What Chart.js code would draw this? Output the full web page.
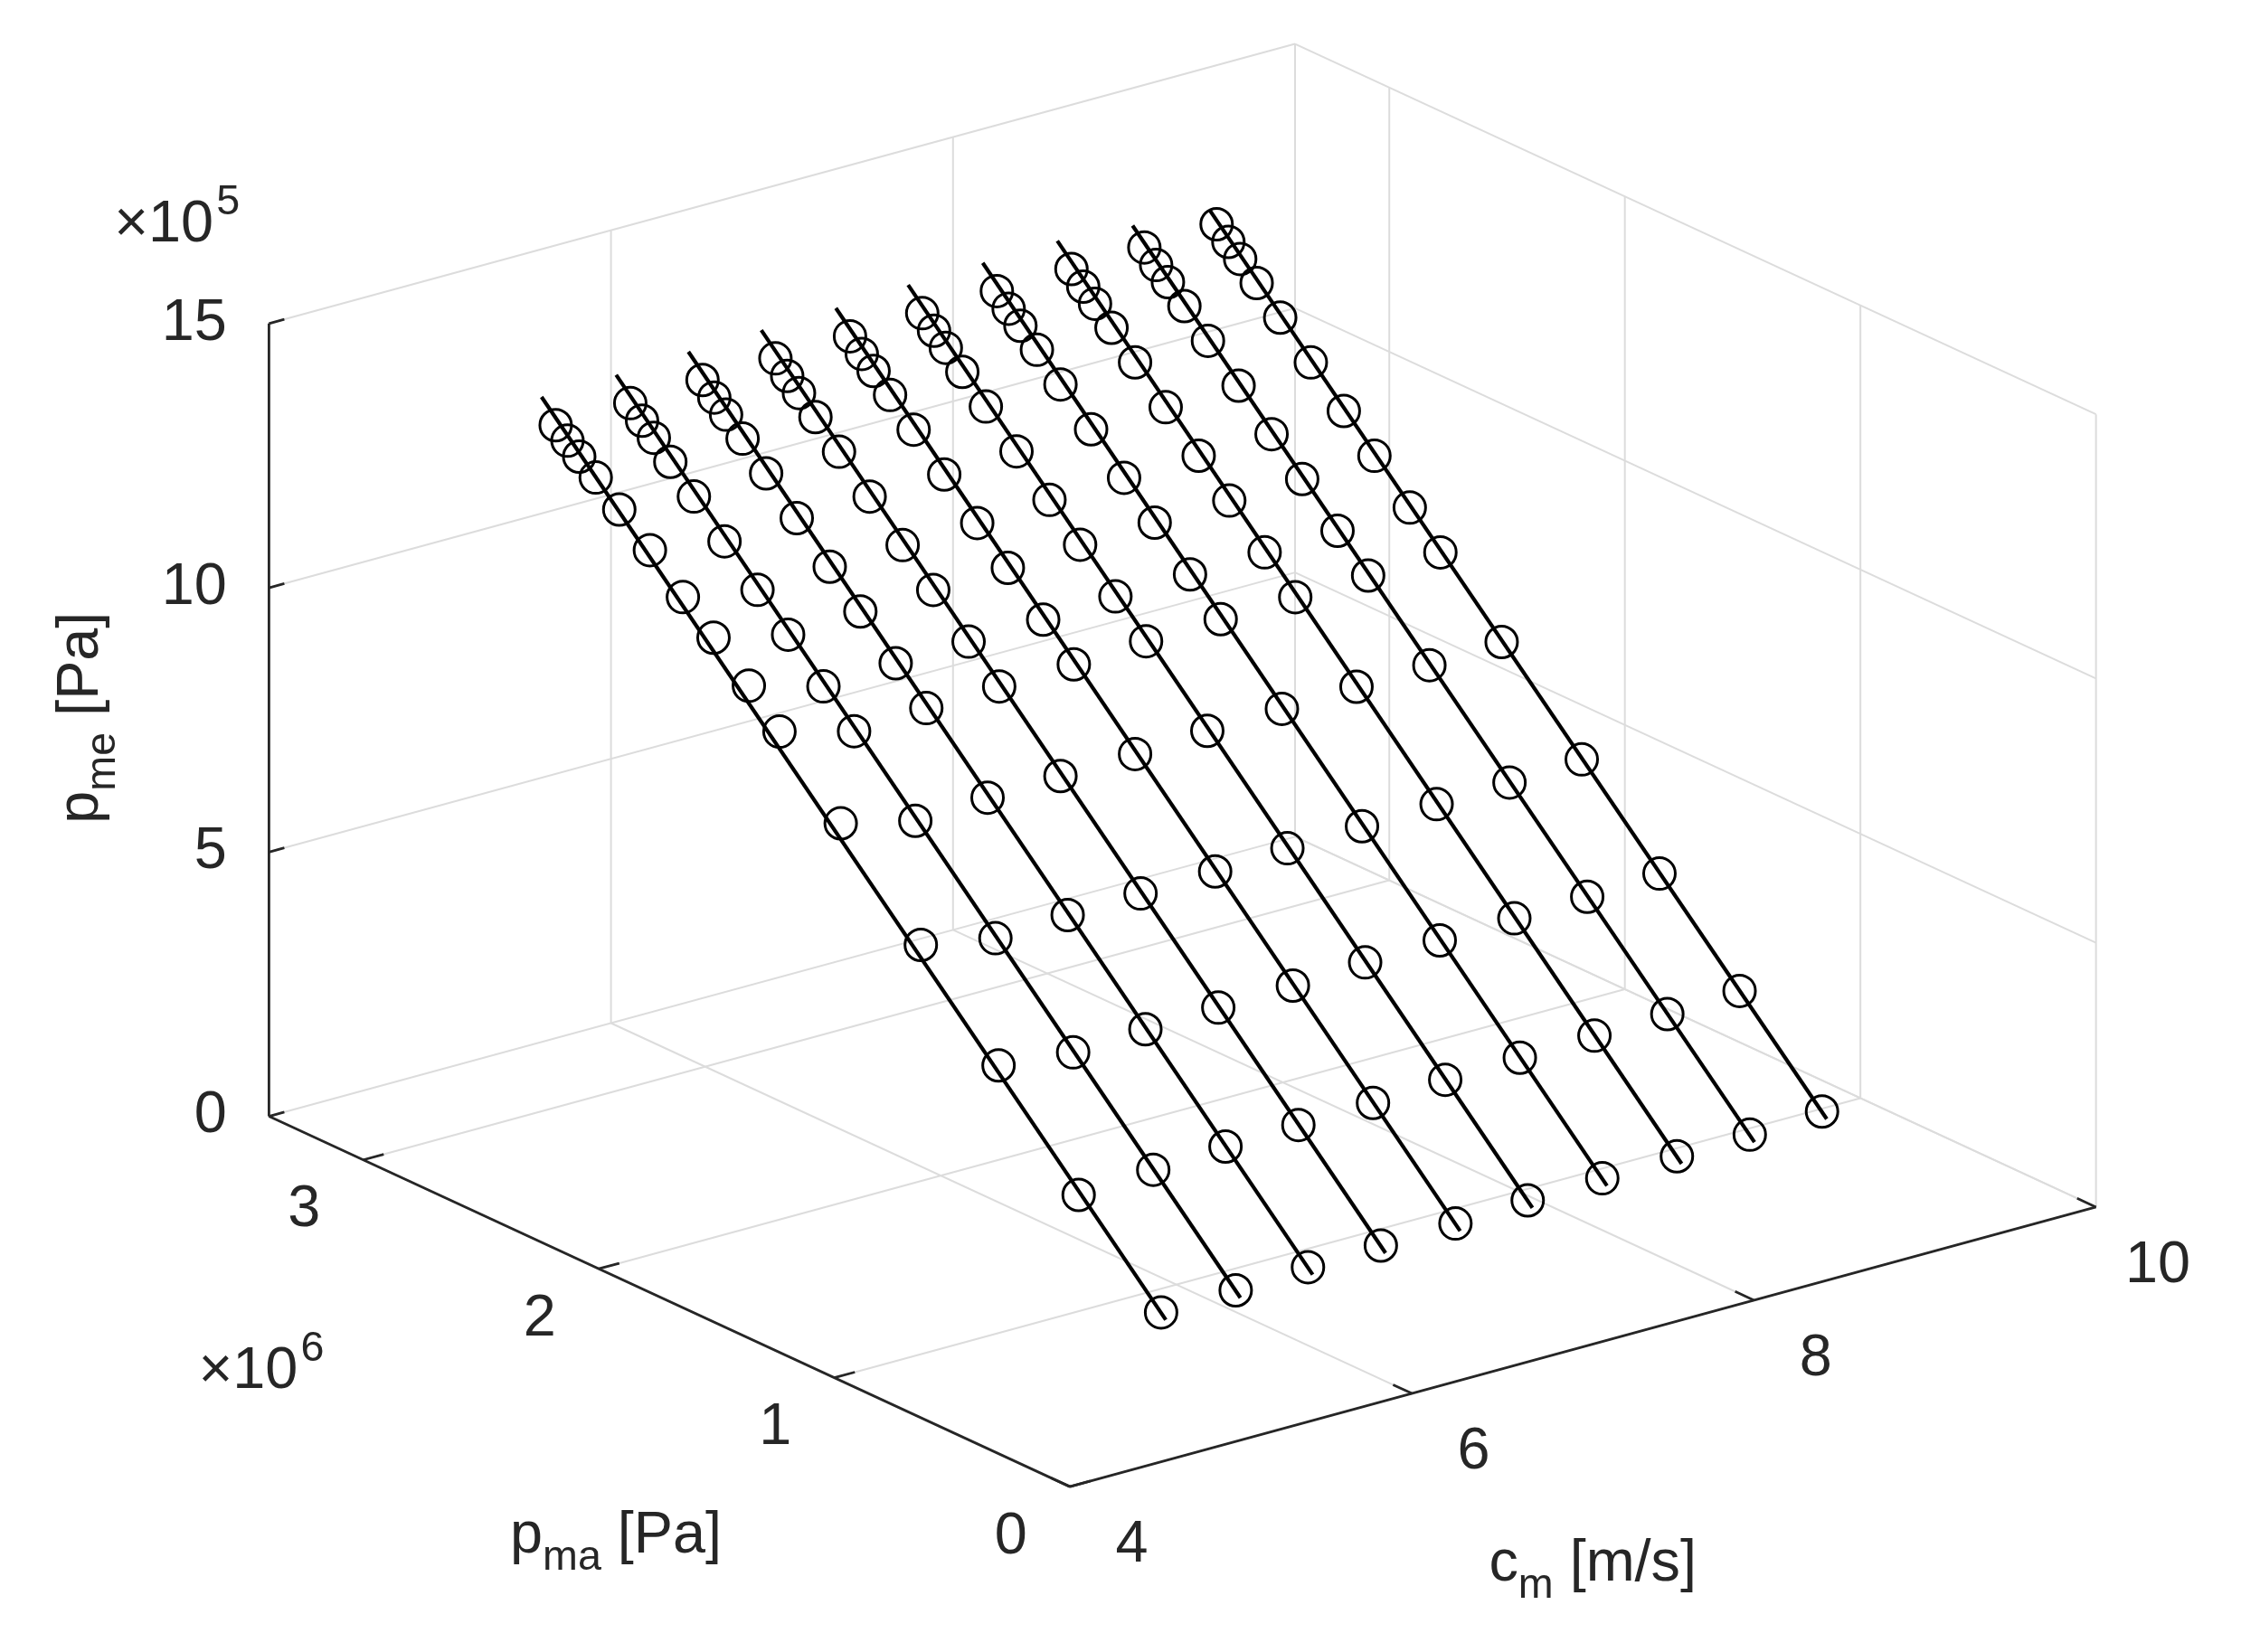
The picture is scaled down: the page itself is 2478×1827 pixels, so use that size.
<!DOCTYPE html>
<html><head><meta charset="utf-8">
<script src="https://cdn.jsdelivr.net/npm/chart.js@4.4.0/dist/chart.umd.min.js"></script>
<style>html,body{margin:0;padding:0;background:#fff}#wrap{width:2478px;height:1827px;position:relative}</style>
</head><body><div id="wrap"><canvas id="c"></canvas></div>
<script>
// ---- data ----
const cmTicks = [4, 6, 8, 10];
const pmaTicks = [0, 1, 2, 3];          // x10^6 Pa
const pmeTicks = [0, 5, 10, 15];        // x10^5 Pa
const cmLines = [5.47, 5.92, 6.37, 6.81, 7.26, 7.71, 8.16, 8.61, 9.05, 9.5];
const pmeMeasured = [0.60, 2.16, 3.68, 5.16, 6.68, 7.84, 8.42, 9.09, 9.67, 10.30, 10.88, 11.33, 11.64, 11.86, 12.09];
const pmeMeasuredFirst = [0.60, 2.10, 3.85, 5.45, 7.05, 8.25, 8.85, 9.45, 9.95, 10.55, 11.05, 11.45, 11.70, 11.90, 12.09];
const pma0 = [0.68,1.03,1.37,1.70,2.04,2.30,2.43,2.58,2.71,2.85,2.98,3.08,3.15,3.20,3.25];
const pma1 = [0.69,1.04,1.38,1.71,2.05,2.31,2.44,2.59,2.72,2.86,2.99,3.09,3.16,3.21,3.26];
const pma2 = [0.71,1.06,1.40,1.73,2.07,2.33,2.46,2.61,2.74,2.88,3.01,3.11,3.18,3.23,3.28];
const pma3 = [0.72,1.07,1.41,1.74,2.08,2.34,2.47,2.62,2.75,2.89,3.02,3.12,3.19,3.24,3.29];
const pma4 = [0.73,1.08,1.42,1.75,2.09,2.35,2.48,2.63,2.76,2.90,3.03,3.13,3.20,3.25,3.30];
const pma5 = [0.75,1.10,1.44,1.77,2.11,2.37,2.50,2.65,2.78,2.92,3.05,3.15,3.22,3.27,3.32];
const pma6 = [0.76,1.11,1.45,1.78,2.12,2.38,2.51,2.66,2.79,2.93,3.06,3.16,3.23,3.28,3.33];
const pma7 = [0.77,1.12,1.46,1.79,2.13,2.39,2.52,2.67,2.80,2.94,3.07,3.17,3.24,3.29,3.34];
const pma8 = [0.78,1.13,1.47,1.80,2.14,2.40,2.53,2.68,2.81,2.95,3.08,3.18,3.25,3.30,3.35];
const pma9 = [0.80,1.15,1.49,1.82,2.16,2.42,2.55,2.70,2.83,2.97,3.10,3.20,3.27,3.32,3.37];
const pmaSets = [pma0,pma1,pma2,pma3,pma4,pma5,pma6,pma7,pma8,pma9];
const fitPmaStart = [0.66,0.67,0.69,0.70,0.71,0.73,0.74,0.75,0.76,0.78];
const fitPmaEnd   = [3.31,3.32,3.34,3.35,3.36,3.38,3.39,3.40,3.40,3.40];
const fitPmeStart = [0.5,0.5,0.5,0.5,0.5,0.5,0.5,0.5,0.5,0.5];
const fitPmeEnd   = [12.5,12.5,12.5,12.5,12.5,12.5,12.5,12.5,12.4,12.3];

// ---- view geometry (reference image units 1568x1155) ----
const W = 1568, H = 1155;
const CM_MIN = 4, CM_MAX = 10, PMA_MAX = 3.4, PME_MAX = 15;
const O = {x:748, y:1050};
const A = {x:121.67, y:-33.33};  // per 1 m/s
const B = {x:-167.6, y:-77.9};   // per 1e6 Pa
const C = {x:0, y:-37.8};        // per 1e5 Pa
function proj(cm, pma, pme){
  const u = cm - CM_MIN;
  return {x: O.x + u*A.x + pma*B.x + pme*C.x, y: O.y + u*A.y + pma*B.y + pme*C.y};
}
const datasets = [];
function seg(p, q, color, width, order){
  datasets.push({type:'scatter', data:[p,q], showLine:true, pointRadius:0, borderColor:color, borderWidth:width, order:order});
}
const GRID = '#dcdcdc';
cmTicks.forEach(c => seg(proj(c,PMA_MAX,0), proj(c,PMA_MAX,PME_MAX), GRID, 2, 10));
pmeTicks.forEach(z => seg(proj(CM_MIN,PMA_MAX,z), proj(CM_MAX,PMA_MAX,z), GRID, 2, 10));
pmaTicks.concat([PMA_MAX]).forEach(p => seg(proj(CM_MAX,p,0), proj(CM_MAX,p,PME_MAX), GRID, 2, 10));
pmeTicks.forEach(z => seg(proj(CM_MAX,0,z), proj(CM_MAX,PMA_MAX,z), GRID, 2, 10));
cmTicks.forEach(c => seg(proj(c,0,0), proj(c,PMA_MAX,0), GRID, 2, 10));
pmaTicks.forEach(p => seg(proj(CM_MIN,p,0), proj(CM_MAX,p,0), GRID, 2, 10));
const AX = '#262626';
seg(proj(CM_MIN,PMA_MAX,0), proj(CM_MIN,PMA_MAX,PME_MAX), AX, 2.8, 5);
seg(proj(CM_MIN,0,0), proj(CM_MIN,PMA_MAX,0), AX, 2.8, 5);
seg(proj(CM_MIN,0,0), proj(CM_MAX,0,0), AX, 2.8, 5);
pmeTicks.forEach(z => seg(proj(CM_MIN,PMA_MAX,z), proj(CM_MIN+0.09,PMA_MAX,z), AX, 2.8, 5));
pmaTicks.forEach(p => seg(proj(CM_MIN,p,0), proj(CM_MIN+0.12,p,0), AX, 2.8, 5));
cmTicks.forEach(c => seg(proj(c,0,0), proj(c,0.08,0), AX, 2.8, 5));
cmLines.forEach((c,i) => {
  datasets.push({type:'scatter', data:[proj(c,fitPmaStart[i],fitPmeStart[i]), proj(c,fitPmaEnd[i],fitPmeEnd[i])],
    showLine:true, pointRadius:0, borderColor:'#000', borderWidth:4.2, order:2});
});
cmLines.forEach((c,i) => {
  const z = i===0 ? pmeMeasuredFirst : pmeMeasured;
  datasets.push({type:'scatter', data: pmaSets[i].map((p,j)=>proj(c,p,z[j])), showLine:false,
    pointRadius:17.5, pointBorderWidth:3, pointBorderColor:'#000', pointBackgroundColor:'rgba(0,0,0,0)', order:1});
});

const FONT = '"Liberation Sans", Arial, sans-serif';
const textPlugin = {
  id:'txt',
  afterDraw(chart){
    const ctx = chart.ctx, sx = chart.scales.x, sy = chart.scales.y;
    const X = v => sx.getPixelForValue(v), Y = v => sy.getPixelForValue(v);
    const k = chart.width / W;
    ctx.save(); ctx.fillStyle = '#262626';
    const fs = 41*k;
    ctx.font = fs+'px '+FONT;
    ctx.textAlign='right'; ctx.textBaseline='middle';
    pmeTicks.forEach(z => { const p = proj(CM_MIN,PMA_MAX,z); ctx.fillText(String(z), X(p.x-30), Y(p.y)); });
    ctx.textAlign='center';
    pmaTicks.forEach(v => { const p = proj(CM_MIN,v,0); ctx.fillText(String(v), X(p.x-42), Y(p.y+36)); });
    cmTicks.forEach(v => { const p = proj(v,0,0); ctx.fillText(String(v), X(p.x+44), Y(p.y+42)); });
    function mult(x,y,e){
      ctx.textAlign='left'; ctx.font = fs+'px '+FONT;
      ctx.fillText('\u00d710', X(x), Y(y));
      const w = ctx.measureText('\u00d710').width;
      ctx.font = (fs*0.72)+'px '+FONT;
      ctx.fillText(e, X(x)+w+2*k, Y(y-16));
    }
    mult(68,148,'5'); mult(128,968,'6');
    function lab(x,y,main,sub,rest,rot){
      ctx.save(); ctx.translate(X(x),Y(y)); if(rot) ctx.rotate(-Math.PI/2);
      ctx.font = fs+'px '+FONT; ctx.textBaseline='alphabetic';
      const w1 = ctx.measureText(main).width;
      ctx.font = (fs*0.72)+'px '+FONT; const w2 = ctx.measureText(sub).width;
      ctx.font = fs+'px '+FONT; const w3 = ctx.measureText(rest).width;
      let sx0 = -(w1+w2+w3)/2;
      ctx.textAlign='left';
      ctx.fillText(main, sx0, 0);
      ctx.font = (fs*0.72)+'px '+FONT; ctx.fillText(sub, sx0+w1, 12*k);
      ctx.font = fs+'px '+FONT; ctx.fillText(rest, sx0+w1+w2, 0);
      ctx.restore();
    }
    lab(56,500,'p','me',' [Pa]',true);
    lab(425,1097,'p','ma',' [Pa]',false);
    lab(1120,1117,'c','m',' [m/s]',false);
    ctx.restore();
  }
};

new Chart(document.getElementById('c'), {
  type:'scatter',
  data:{datasets},
  options:{
    responsive:true, maintainAspectRatio:false, animation:false,
    layout:{padding:0},
    plugins:{legend:{display:false}, tooltip:{enabled:false}},
    scales:{
      x:{type:'linear', min:0, max:W, display:false},
      y:{type:'linear', min:0, max:H, reverse:true, display:false}
    }
  },
  plugins:[textPlugin]
});
</script></body></html>
